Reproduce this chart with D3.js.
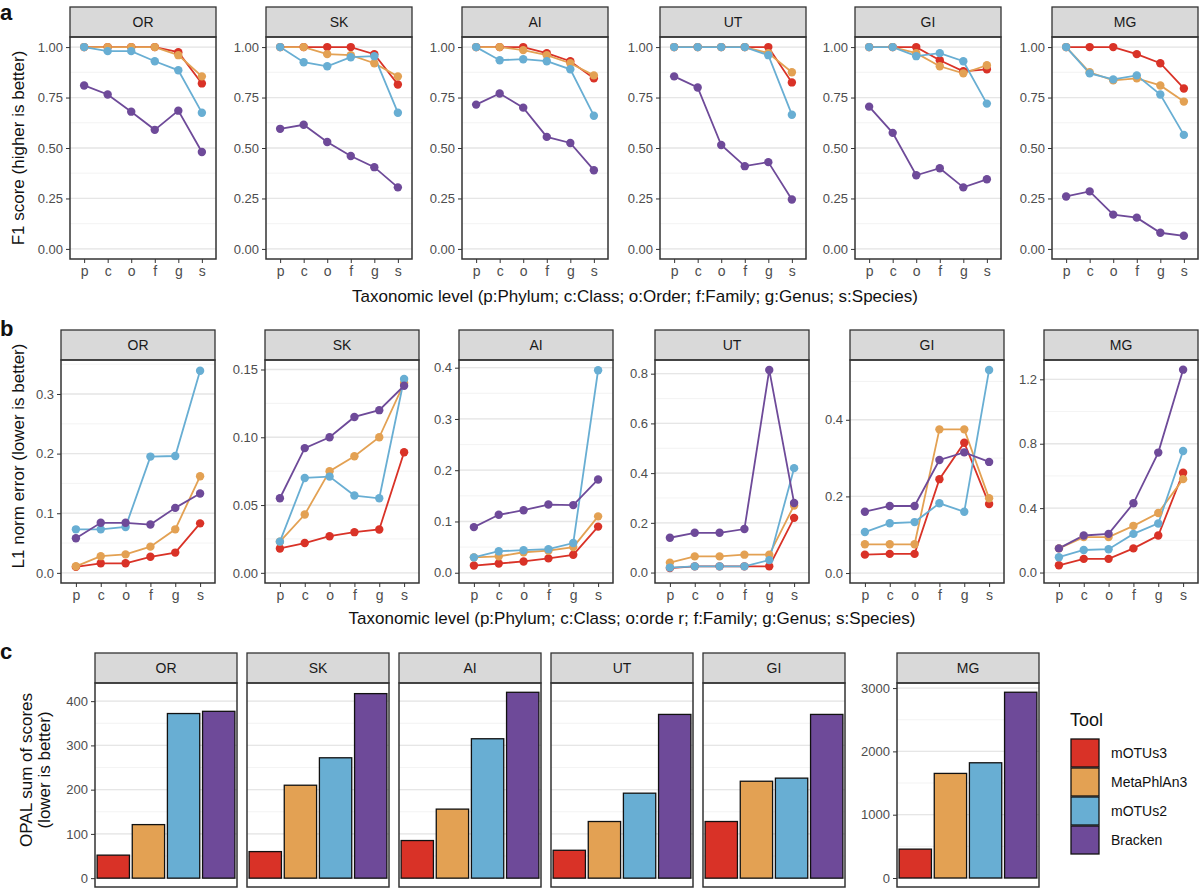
<!DOCTYPE html>
<html>
<head>
<meta charset="utf-8">
<script src="https://cdn.jsdelivr.net/npm/d3@7"></script>
<style>
  body { margin: 0; background: #fff; }
  text { font-family: "Liberation Sans", Arial, sans-serif; }
</style>
</head>
<body>
<div id="chart"></div>
<script>
// categories
var sites = ['OR', 'SK', 'AI', 'UT', 'GI', 'MG'];
var levels = ['p', 'c', 'o', 'f', 'g', 's'];
var tools = ['mOTUs3', 'MetaPhlAn3', 'mOTUs2', 'Bracken'];
var toolColors = ['#d93227', '#e3a153', '#68aed3', '#6e4a99'];

// a: F1 score, rows = tools in order above
var f1OR = [[1, 1, 1, 1, 0.975, 0.82], [1, 1, 1, 1, 0.96, 0.855], [1, 0.98, 0.98, 0.93, 0.885, 0.675], [0.81, 0.765, 0.68, 0.59, 0.685, 0.48]];
var f1SK = [[1, 1, 1, 1, 0.965, 0.815], [1, 1, 0.965, 0.96, 0.92, 0.855], [1, 0.925, 0.905, 0.95, 0.955, 0.675], [0.595, 0.615, 0.53, 0.46, 0.405, 0.305]];
var f1AI = [[1, 1, 1, 0.97, 0.93, 0.845], [1, 1, 0.985, 0.96, 0.92, 0.86], [1, 0.935, 0.94, 0.93, 0.89, 0.66], [0.715, 0.77, 0.70, 0.555, 0.525, 0.39]];
var f1UT = [[1, 1, 1, 1, 1, 0.825], [1, 1, 1, 1, 0.97, 0.875], [1, 1, 1, 1, 0.96, 0.665], [0.855, 0.8, 0.515, 0.41, 0.43, 0.245]];
var f1GI = [[1, 1, 1, 0.935, 0.88, 0.89], [1, 1, 0.97, 0.905, 0.87, 0.91], [1, 1, 0.955, 0.97, 0.93, 0.72], [0.705, 0.575, 0.365, 0.40, 0.305, 0.345]];
var f1MG = [[1, 1, 1, 0.965, 0.92, 0.795], [1, 0.875, 0.835, 0.845, 0.81, 0.73], [1, 0.87, 0.84, 0.86, 0.765, 0.565], [0.26, 0.285, 0.17, 0.155, 0.08, 0.065]];

// b: L1 norm error
var l1OR = [[0.01, 0.016, 0.016, 0.027, 0.034, 0.083], [0.011, 0.028, 0.031, 0.044, 0.073, 0.162], [0.073, 0.073, 0.077, 0.195, 0.196, 0.339], [0.058, 0.084, 0.084, 0.081, 0.109, 0.133]];
var l1SK = [[0.018, 0.022, 0.027, 0.030, 0.032, 0.089], [0.023, 0.043, 0.075, 0.086, 0.100, 0.140], [0.023, 0.070, 0.071, 0.057, 0.055, 0.143], [0.055, 0.092, 0.100, 0.115, 0.120, 0.138]];
var l1AI = [[0.014, 0.018, 0.022, 0.028, 0.035, 0.09], [0.03, 0.032, 0.04, 0.043, 0.05, 0.11], [0.03, 0.042, 0.044, 0.046, 0.058, 0.395], [0.089, 0.113, 0.122, 0.133, 0.132, 0.182]];
var l1UT = [[0.018, 0.025, 0.025, 0.025, 0.025, 0.22], [0.04, 0.065, 0.065, 0.072, 0.072, 0.27], [0.02, 0.025, 0.025, 0.025, 0.05, 0.42], [0.14, 0.16, 0.16, 0.175, 0.815, 0.28]];
var l1GI = [[0.048, 0.05, 0.05, 0.245, 0.34, 0.18], [0.075, 0.075, 0.075, 0.375, 0.375, 0.195], [0.107, 0.13, 0.133, 0.182, 0.16, 0.53], [0.16, 0.175, 0.175, 0.295, 0.315, 0.29]];
var l1MG = [[0.045, 0.085, 0.085, 0.15, 0.23, 0.62], [0.15, 0.22, 0.22, 0.29, 0.37, 0.58], [0.095, 0.14, 0.145, 0.24, 0.305, 0.755], [0.15, 0.23, 0.24, 0.43, 0.745, 1.26]];

// c: OPAL sum of scores, one array per tool, by site
var opalMOTUs3 = [52, 60, 85, 63, 128, 456];
var opalMetaPhlAn3 = [121, 210, 156, 128, 219, 1652];
var opalMOTUs2 = [372, 272, 315, 192, 226, 1820];
var opalBracken = [377, 417, 420, 370, 370, 2934];

var f1Data = [f1OR, f1SK, f1AI, f1UT, f1GI, f1MG];
var l1Data = [l1OR, l1SK, l1AI, l1UT, l1GI, l1MG];
var opalData = [opalMOTUs3, opalMetaPhlAn3, opalMOTUs2, opalBracken];

var f1Ticks = [0, 0.25, 0.5, 0.75, 1];
var l1Ticks = [[0, 0.1, 0.2, 0.3], [0, 0.05, 0.1, 0.15], [0, 0.1, 0.2, 0.3, 0.4], [0, 0.2, 0.4, 0.6, 0.8], [0, 0.2, 0.4], [0, 0.4, 0.8, 1.2]];
var l1Domains = [[-0.017, 0.357], [-0.0075, 0.157], [-0.02, 0.415], [-0.042, 0.855], [-0.026, 0.556], [-0.065, 1.32]];
var l1Formats = ['.1f', '.2f', '.1f', '.1f', '.1f', '.1f'];
var opalTicks = [0, 100, 200, 300, 400];
var opalTicksMG = [0, 1000, 2000, 3000];

var svg = d3.select('#chart').append('svg').attr('width', 1200).attr('height', 888);

var dark = '#333333';

function facet(x0, w, top, bottom, label) {
  var g = svg.append('g');
  g.append('rect').attr('x', x0).attr('y', top).attr('width', w).attr('height', 30)
    .attr('fill', '#d9d9d9').attr('stroke', dark).attr('stroke-width', 1.3);
  g.append('text').attr('x', x0 + w / 2).attr('y', top + 20).attr('text-anchor', 'middle')
    .attr('font-size', 14).attr('fill', '#1a1a1a').text(label);
  return g;
}

function grid(g, y, x0, w, ticks, step) {
  var d = y.domain();
  var minor = d3.range(ticks[0] - step * 2, d[1], step).filter(function (v) { return v >= d[0] && v <= d[1]; });
  g.selectAll(null).data(minor).enter().append('line')
    .attr('x1', x0).attr('x2', x0 + w).attr('y1', y).attr('y2', y)
    .attr('stroke', '#f0f0f0').attr('stroke-width', 0.8);
  g.selectAll(null).data(ticks).enter().append('line')
    .attr('x1', x0).attr('x2', x0 + w).attr('y1', y).attr('y2', y)
    .attr('stroke', '#e6e6e6').attr('stroke-width', 1.3);
}

function yAxis(g, y, x0, ticks, fmt) {
  var ax = g.append('g').attr('transform', 'translate(' + x0 + ',0)')
    .call(d3.axisLeft(y).tickValues(ticks).tickFormat(fmt).tickSize(4).tickPadding(3));
  ax.select('.domain').remove();
  ax.selectAll('line').attr('stroke', dark);
  ax.selectAll('text').attr('font-size', 13).attr('fill', '#4d4d4d');
}

function linePanels(data, xs, w, stripTop, plotBottom, domains, tickSets, fmts) {
  data.forEach(function (series, i) {
    var x0 = xs[i], top = stripTop + 30;
    var g = facet(x0, w, stripTop, plotBottom, sites[i]);
    var x = d3.scalePoint().domain(levels).range([x0, x0 + w]).padding(0.6);
    var y = d3.scaleLinear().domain(domains[i]).range([plotBottom, top]);
    var ticks = tickSets[i];
    grid(g, y, x0, w, ticks, (ticks[1] - ticks[0]) / 2);
    yAxis(g, y, x0, ticks, d3.format(fmts[i]));
    var xa = g.append('g').attr('transform', 'translate(0,' + plotBottom + ')')
      .call(d3.axisBottom(x).tickSize(4).tickPadding(3));
    xa.select('.domain').remove();
    xa.selectAll('line').attr('stroke', dark);
    xa.selectAll('text').attr('font-size', 14).attr('fill', '#4d4d4d');
    var line = d3.line().x(function (d, j) { return x(levels[j]); }).y(function (d) { return y(d); });
    series.forEach(function (vals, t) {
      g.append('path').attr('d', line(vals)).attr('fill', 'none')
        .attr('stroke', toolColors[t]).attr('stroke-width', 1.8);
    });
    series.forEach(function (vals, t) {
      g.selectAll(null).data(vals).enter().append('circle')
        .attr('cx', function (d, j) { return x(levels[j]); }).attr('cy', function (d) { return y(d); })
        .attr('r', 4.2).attr('fill', toolColors[t]);
    });
    g.append('rect').attr('x', x0).attr('y', top).attr('width', w).attr('height', plotBottom - top)
      .attr('fill', 'none').attr('stroke', dark).attr('stroke-width', 1.5);
  });
}

// ---- panel a
var aX = [70, 266, 462, 660, 855, 1052];
linePanels(f1Data, aX, 146, 7, 259,
  sites.map(function () { return [-0.05, 1.05]; }),
  sites.map(function () { return f1Ticks; }),
  sites.map(function () { return '.2f'; }));

// ---- panel b
var bX = [61, 265, 459, 655, 850, 1044];
linePanels(l1Data, bX, 154, 330, 583, l1Domains, l1Ticks, l1Formats);

// ---- panel c
var cX = [95, 247, 399, 551, 703, 897];
var cW = 142, cTop = 653, cBottom = 887;
sites.forEach(function (s, i) {
  var x0 = cX[i];
  var g = facet(x0, cW, cTop, cBottom, s);
  var isMG = s === 'MG';
  var y = d3.scaleLinear().domain(isMG ? [-142, 3080] : [-20, 441]).range([cBottom, cTop + 30]);
  var ticks = isMG ? opalTicksMG : opalTicks;
  grid(g, y, x0, cW, ticks, isMG ? 500 : 50);
  if (i === 0 || isMG) yAxis(g, y, x0, ticks, d3.format('d'));
  var x = d3.scaleBand().domain(tools).range([x0, x0 + cW]).paddingInner(0.08).paddingOuter(0.06);
  g.selectAll(null).data(opalData).enter().append('rect')
    .attr('x', function (d, t) { return x(tools[t]); })
    .attr('width', x.bandwidth())
    .attr('y', function (d) { return y(d[i]); })
    .attr('height', function (d) { return y(0) - y(d[i]); })
    .attr('fill', function (d, t) { return toolColors[t]; })
    .attr('stroke', '#111').attr('stroke-width', 1.3);
  g.append('rect').attr('x', x0).attr('y', cTop + 30).attr('width', cW).attr('height', cBottom - cTop - 30)
    .attr('fill', 'none').attr('stroke', dark).attr('stroke-width', 1.5);
});

// legend
var leg = svg.append('g');
leg.append('text').attr('x', 1070).attr('y', 726).attr('font-size', 18).attr('fill', '#111').text('Tool');
tools.forEach(function (t, i) {
  leg.append('rect').attr('x', 1071).attr('y', 739 + i * 29).attr('width', 28).attr('height', 28)
    .attr('fill', toolColors[i]).attr('stroke', '#111').attr('stroke-width', 1.3);
  leg.append('text').attr('x', 1111).attr('y', 758 + i * 29).attr('font-size', 14).attr('fill', '#111').text(t);
});

// titles and tags
function label(x, y, txt, size, opts) {
  var t = svg.append('text').attr('x', x).attr('y', y).attr('font-size', size).attr('fill', '#111').text(txt);
  if (opts && opts.anchor) t.attr('text-anchor', opts.anchor);
  if (opts && opts.rotate) t.attr('transform', 'rotate(-90,' + x + ',' + y + ')');
  if (opts && opts.bold) t.attr('font-weight', 'bold');
  return t;
}
label(0, 20, 'a', 22, { bold: true });
label(0, 336, 'b', 22, { bold: true });
label(0, 659, 'c', 22, { bold: true });
label(24, 148, 'F1 score (higher is better)', 17, { anchor: 'middle', rotate: true });
label(24, 456, 'L1 norm error (lower is better)', 17, { anchor: 'middle', rotate: true });
label(32, 770, 'OPAL sum of scores', 17, { anchor: 'middle', rotate: true });
label(50, 770, '(lower is better)', 17, { anchor: 'middle', rotate: true });
label(635, 302, 'Taxonomic level (p:Phylum; c:Class; o:Order; f:Family; g:Genus; s:Species)', 17, { anchor: 'middle' });
label(632, 624, 'Taxonomic level (p:Phylum; c:Class; o:orde r; f:Family; g:Genus; s:Species)', 17, { anchor: 'middle' });
</script>
</body>
</html>
